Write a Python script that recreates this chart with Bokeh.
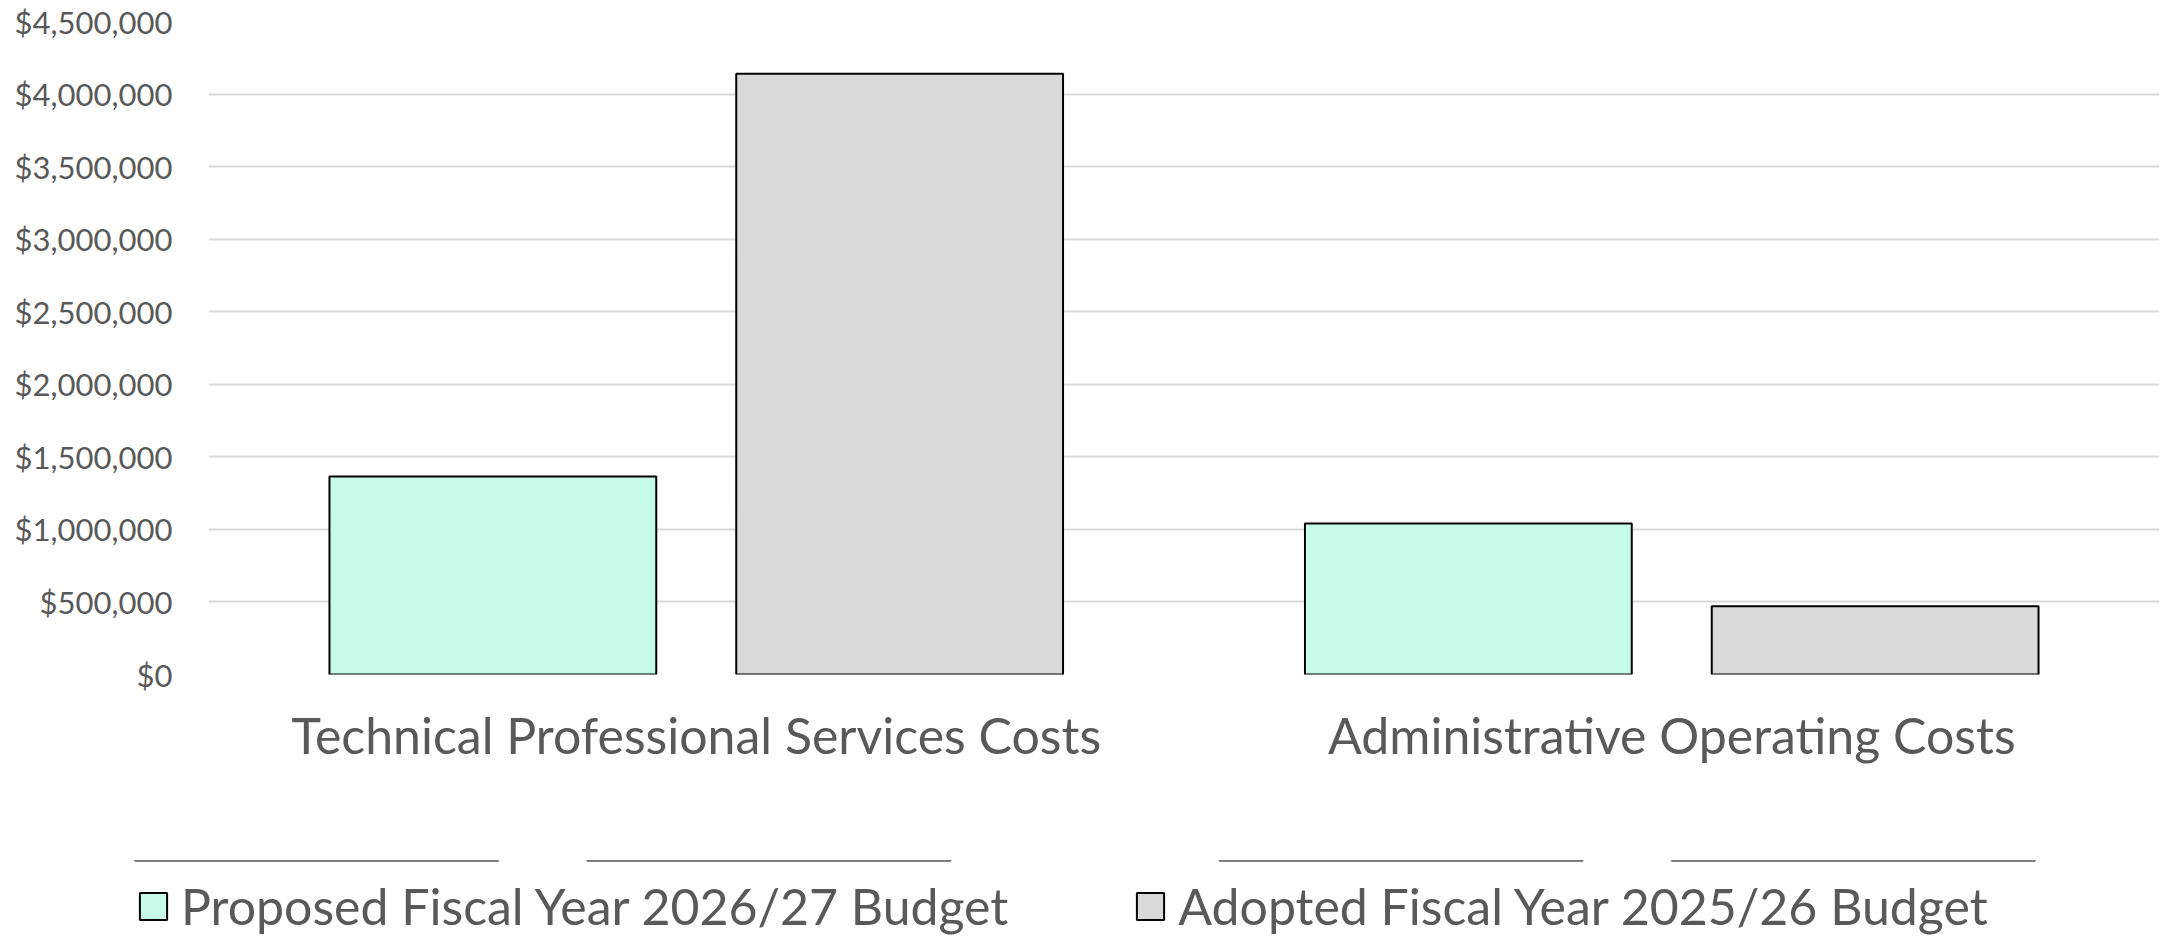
from bokeh.plotting import figure
from bokeh.layouts import column
from bokeh.models import ColumnDataSource, FactorRange, Range1d, Legend, LegendItem, NumeralTickFormatter, FixedTicker
from bokeh.transform import dodge
from bokeh.embed import file_html
from bokeh.resources import INLINE

categories = ["Technical Professional Services Costs", "Administrative Operating Costs"]
series_names = ["Proposed Fiscal Year 2026/27 Budget", "Adopted Fiscal Year 2025/26 Budget"]
proposed_2026_27 = [1365000, 1040000]
adopted_2025_26 = [4140000, 470000]
y_ticks = [0, 500000, 1000000, 1500000, 2000000, 2500000, 3000000, 3500000, 4000000, 4500000]

colors = ["#C5FBE8", "#D9D9D9"]
FONT = "Lato"
TEXT_COLOR = "#595959"

source = ColumnDataSource(data=dict(cat=categories, proposed=proposed_2026_27, adopted=adopted_2025_26))

p = figure(
    width=2169, height=860,
    x_range=FactorRange(factors=categories, range_padding=0),
    y_range=Range1d(0, 4500000),
    output_backend="svg", toolbar_location=None,
    min_border_left=208, min_border_right=10, min_border_top=21, min_border_bottom=186,
)
p.outline_line_color = None
p.background_fill_color = "white"
p.border_fill_color = "white"

bw = 0.335
off = 0.2085
bar_style = dict(line_color="black", line_width=2)
r1 = p.vbar(x=dodge("cat", -off, range=p.x_range), top="proposed", width=bw, source=source,
            fill_color=colors[0], **bar_style)
r2 = p.vbar(x=dodge("cat", off, range=p.x_range), top="adopted", width=bw, source=source,
            fill_color=colors[1], **bar_style)

# y axis
p.yaxis.ticker = FixedTicker(ticks=y_ticks)
p.yaxis.formatter = NumeralTickFormatter(format="$0,0")
p.yaxis.axis_line_color = None
p.yaxis.major_tick_line_color = None
p.yaxis.minor_tick_line_color = None
p.yaxis.major_label_text_font = FONT
p.yaxis.major_label_text_font_size = "31px"
p.yaxis.major_label_text_color = TEXT_COLOR
p.yaxis.major_label_standoff = 30

# x axis
p.xaxis.axis_line_color = None
p.xaxis.major_tick_line_color = None
p.xaxis.minor_tick_line_color = None
p.xaxis.major_label_text_font = FONT
p.xaxis.major_label_text_font_size = "50px"
p.xaxis.major_label_text_color = TEXT_COLOR
p.xaxis.major_label_standoff = 24

p.xgrid.grid_line_color = None
p.ygrid.grid_line_color = "#D9D9D9"
p.ygrid.grid_line_width = 2

# legend strip below the chart (its bars lie far outside its view; only the legend shows)
lg = figure(
    width=2169, height=76,
    x_range=p.x_range, y_range=Range1d(-2e7, -1.9e7),
    output_backend="svg", toolbar_location=None,
    min_border=0,
)
if "frame_align" in lg.properties():
    lg.frame_align = False
lg.axis.visible = False
lg.grid.visible = False
lg.outline_line_color = None
lg.border_fill_color = "white"
lg.background_fill_color = "white"
s1 = lg.vbar(x=dodge("cat", -off, range=p.x_range), top="proposed", width=bw, source=source,
             fill_color=colors[0], **bar_style)
s2 = lg.vbar(x=dodge("cat", off, range=p.x_range), top="adopted", width=bw, source=source,
             fill_color=colors[1], **bar_style)

legend = Legend(
    items=[LegendItem(label=series_names[0], renderers=[s1]),
           LegendItem(label=series_names[1], renderers=[s2])],
    orientation="horizontal",
    location=(136, 0),
    glyph_width=34, glyph_height=34,
    label_standoff=11,
    spacing=125,
    label_text_font=FONT,
    label_text_font_size="50px",
    label_text_color=TEXT_COLOR,
    border_line_color=None,
    background_fill_alpha=0,
    padding=0,
    margin=0,
)
lg.add_layout(legend, "center")

layout = column(p, lg, spacing=0)
open("out.html", "w").write(file_html(layout, INLINE))
